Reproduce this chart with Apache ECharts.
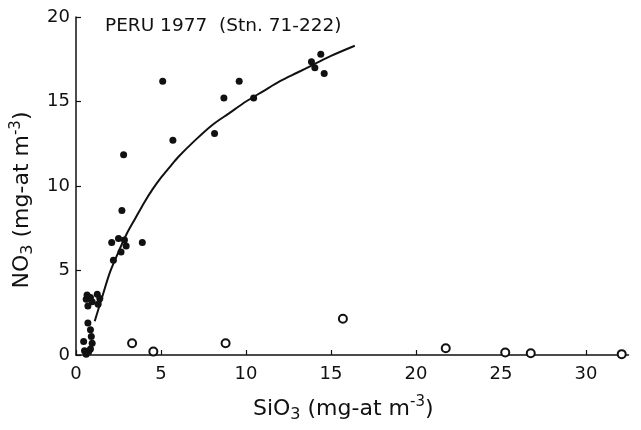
<!DOCTYPE html>
<html>
<head>
<meta charset="utf-8" />
<title>PERU 1977 NO3 vs SiO3</title>
<script src="https://cdn.jsdelivr.net/npm/echarts@6/dist/echarts.min.js"></script>
<style>
    html, body { margin: 0; padding: 0; background: #fff; }
    #chart { width: 641px; height: 430px; }
</style>
</head>
<body>
<div id="chart"></div>
<script type="text/javascript">
    // station data: [SiO3, NO3]
    var upwelledPoints = [
        [5.1, 16.2], [5.7, 12.7], [8.15, 13.1], [8.7, 15.2], [9.6, 16.2], [10.45, 15.2],
        [13.85, 17.35], [14.4, 17.8], [14.05, 17.0], [14.6, 16.65],
        [2.8, 11.85], [2.7, 8.55], [2.1, 6.65], [2.5, 6.9], [2.85, 6.8], [2.95, 6.45],
        [2.65, 6.1], [2.2, 5.6], [3.9, 6.65],
        [0.6, 3.3], [0.65, 3.55], [0.7, 2.9], [0.85, 3.4], [0.95, 3.15], [1.25, 3.6],
        [1.4, 3.35], [1.3, 3.0], [0.7, 1.9], [0.85, 1.5], [0.9, 1.1], [0.95, 0.7],
        [0.45, 0.8], [0.5, 0.25], [0.75, 0.2], [0.85, 0.35], [0.6, 0.05]
    ];
    var surfacePoints = [
        [3.3, 0.7], [4.55, 0.2], [8.8, 0.7], [15.7, 2.15], [21.75, 0.4],
        [25.25, 0.15], [26.75, 0.1], [32.1, 0.05]
    ];
    // hand-drawn fitted curve
    var fittedCurve = [
        [1.1, 2.0], [1.5, 3.3], [2.0, 4.9], [2.5, 6.1], [3.0, 7.2], [3.5, 8.1],
        [4.0, 9.0], [4.5, 9.8], [5.0, 10.5], [5.5, 11.1], [6.0, 11.7], [7.0, 12.7],
        [8.0, 13.6], [9.0, 14.3], [10.0, 15.0], [11.0, 15.6], [12.0, 16.2],
        [13.0, 16.7], [14.0, 17.2], [15.0, 17.7], [16.4, 18.3]
    ];
    var xTicks = [0, 5, 10, 15, 20, 25, 30];
    var yTicks = [0, 5, 10, 15, 20];

    var font = 'DejaVu Sans';
    var ink = '#111';

    var nameRich = {
        a: { fontFamily: font, fontSize: 22, lineHeight: 28, color: ink },
        s: { fontFamily: font, fontSize: 16, lineHeight: 16, color: ink, verticalAlign: 'bottom' },
        p: { fontFamily: font, fontSize: 15, lineHeight: 15, color: ink, verticalAlign: 'top' }
    };

    var chart = echarts.init(document.getElementById('chart'));
    chart.setOption({
        animation: false,
        backgroundColor: '#fff',
        title: {
            text: 'PERU 1977  (Stn. 71-222)',
            left: 100,
            top: 12,
            textStyle: { fontFamily: font, fontSize: 18.5, fontWeight: 'normal', color: ink }
        },
        grid: { left: 76, right: 12.5, top: 17, bottom: 75 },
        xAxis: {
            type: 'value',
            min: 0,
            max: 32.5,
            name: '{a|SiO}{s|3}{a| (mg-at m}{p|-3}{a|)}',
            nameLocation: 'middle',
            nameGap: 40,
            nameTextStyle: { padding: [0, 18, 0, 0], rich: nameRich },
            splitLine: { show: false },
            axisLine: { lineStyle: { color: ink, width: 1.5 } },
            axisTick: { inside: true, length: 5, customValues: xTicks, lineStyle: { color: ink, width: 1.2 } },
            axisLabel: { customValues: xTicks, margin: 10, fontFamily: font, fontSize: 18, color: ink }
        },
        yAxis: {
            type: 'value',
            min: 0,
            max: 20,
            name: '{a|NO}{s|3}{a| (mg-at m}{p|-3}{a|)}',
            nameLocation: 'middle',
            nameGap: 38,
            nameTextStyle: { padding: [0, 28, 0, 0], rich: nameRich },
            splitLine: { show: false },
            axisLine: { lineStyle: { color: ink, width: 1.5 } },
            axisTick: { inside: true, length: 5, customValues: yTicks, lineStyle: { color: ink, width: 1.2 } },
            axisLabel: { customValues: yTicks, margin: 6, fontFamily: font, fontSize: 18, color: ink }
        },
        series: [
            {
                type: 'line',
                data: fittedCurve,
                smooth: 0.3,
                showSymbol: false,
                clip: false,
                lineStyle: { color: ink, width: 2 },
                z: 2
            },
            {
                type: 'scatter',
                data: upwelledPoints,
                symbol: 'circle',
                symbolSize: 7,
                clip: false,
                itemStyle: { color: ink, opacity: 1 },
                z: 3
            },
            {
                type: 'scatter',
                data: surfacePoints,
                symbol: 'emptyCircle',
                symbolSize: 8,
                clip: false,
                itemStyle: { color: ink, borderColor: ink, borderWidth: 1.5, opacity: 1 },
                z: 3
            }
        ]
    });
</script>
</body>
</html>
